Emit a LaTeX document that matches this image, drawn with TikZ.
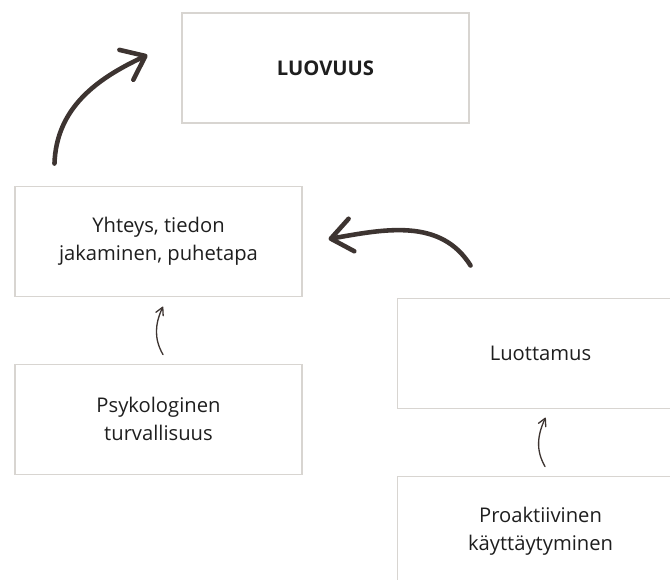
\documentclass[tikz,border=0pt]{standalone}
\usepackage{fontspec}
\setmainfont{Open Sans}
\usepackage{xcolor}
\usepackage{tikz}
\usetikzlibrary{arrows.meta,positioning,calc}

\definecolor{boxgray}{HTML}{D8D5D1}
\definecolor{arrowbrown}{HTML}{3D3431}
\definecolor{textdark}{HTML}{1E1E1E}

\begin{document}
\begin{tikzpicture}[
    node distance=1.34cm,
    box/.style={rectangle, draw=boxgray, line width=0.6pt, minimum width=5.74cm, minimum height=2.2cm, inner sep=0pt, align=center, text=textdark, font=\fontsize{11.5}{16}\selectfont},
    bigarrow/.style={-{Straight Barb[length=4.2mm, width=6.6mm, round]}, line width=2.6pt, draw=arrowbrown, line cap=round},
    smallarrow/.style={-{Straight Barb[length=1.5mm, width=1.6mm, round]}, line width=0.75pt, draw=arrowbrown, line cap=round}
]
    \clip (-6.51,-10.22) rectangle (6.89,1.36);

    % Laatikot
    \node[box] (luovuus) at (0,0) {\textbf{LUOVUUS}};
    \node[box, below=1.24cm of luovuus, xshift=-3.34cm] (yhteys) {Yhteys, tiedon\\jakaminen, puhetapa};
    \node[box, below=of yhteys] (psyk) {Psykologinen\\turvallisuus};
    \node[box, right=1.88cm of yhteys, yshift=-2.24cm] (luottamus) {Luottamus};
    \node[box, below=of luottamus] (proakt) {Proaktiivinen\\käyttäytyminen};

    % Nuolet
    \draw[bigarrow] ($(yhteys.north west)+(0.8,0.44)$) to[out=88, in=205] ($(luovuus.west)+(-0.68,0.26)$);
    \draw[bigarrow] ($(luottamus.north west)+(1.48,0.64)$) to[out=122, in=10] ($(yhteys.east)+(0.52,0.04)$);
    \draw[smallarrow] ($(psyk.north)+(0.09,0.18)$) to[out=120, in=245] ($(yhteys.south)+(0.09,-0.2)$);
    \draw[smallarrow] ($(proakt.north)+(0.09,0.18)$) to[out=120, in=245] ($(luottamus.south)+(0.1,-0.18)$);
\end{tikzpicture}
\end{document}
